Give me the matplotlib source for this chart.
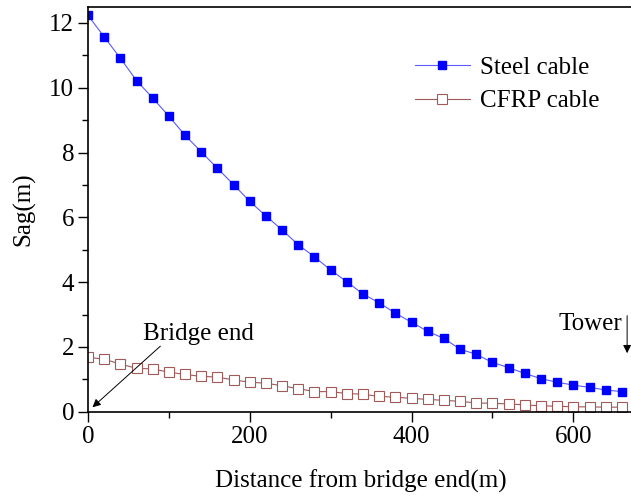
import matplotlib
matplotlib.use('Agg')
import matplotlib.pyplot as plt
from matplotlib.ticker import MultipleLocator

# Distance from bridge end (m), one point every 20 m
distance = list(range(0, 661, 20))

steel_sag = [12.23, 11.57, 10.91, 10.22, 9.68, 9.12, 8.53, 8.02, 7.51, 7.01,
             6.49, 6.04, 5.61, 5.15, 4.78, 4.37, 4.01, 3.63, 3.36, 3.04,
             2.76, 2.48, 2.26, 1.93, 1.77, 1.52, 1.36, 1.18, 1.02, 0.91,
             0.82, 0.75, 0.67, 0.62]

cfrp_sag = [1.68, 1.62, 1.47, 1.34, 1.32, 1.22, 1.15, 1.09, 1.07, 0.98,
            0.91, 0.88, 0.80, 0.71, 0.62, 0.62, 0.56, 0.54, 0.47, 0.45,
            0.41, 0.38, 0.35, 0.32, 0.27, 0.26, 0.24, 0.21, 0.18, 0.17,
            0.15, 0.15, 0.14, 0.14]

plt.rcParams['font.family'] = ['Liberation Serif', 'DejaVu Serif']
plt.rcParams['font.size'] = 18

fig = plt.figure(figsize=(6.31, 4.97), dpi=100)
# right spine falls just outside the picture, as in the reference
ax = fig.add_axes([88 / 631, 85.3 / 497, 546 / 631, 405 / 497])

ax.plot(distance, steel_sag, '-', color='#5a5aff', linewidth=0.8,
        marker='s', markersize=6, markerfacecolor='#0000ff',
        markeredgecolor='#0000ff', label='Steel cable')
ax.plot(distance, cfrp_sag, '-', color='#a05a5a', linewidth=0.8,
        marker='s', markersize=6.5, markerfacecolor='white',
        markeredgecolor='#a05a5a', markeredgewidth=0.8, label='CFRP cable')

ax.set_xlim(0, 675)
ax.set_ylim(0, 12.5)
ax.xaxis.set_major_locator(MultipleLocator(200))
ax.xaxis.set_minor_locator(MultipleLocator(100))
ax.yaxis.set_major_locator(MultipleLocator(2))
ax.yaxis.set_minor_locator(MultipleLocator(1))
ax.tick_params(which='major', direction='out', length=7, width=1.0, pad=3)
ax.tick_params(which='minor', direction='out', length=4, width=1.0)
for s in ax.spines.values():
    s.set_linewidth(1.2)

ax.set_xlabel('Distance from bridge end(m)', labelpad=16)
ax.set_ylabel('Sag(m)', labelpad=10)

# annotations
ax.annotate('', xy=(3, 0.08), xytext=(92, 2.08),
            arrowprops=dict(arrowstyle='-|>', color='black', lw=0.7,
                            mutation_scale=12))
ax.text(68, 2.05, 'Bridge end', ha='left', va='bottom')
ax.annotate('', xy=(666.5, 1.72), xytext=(666.5, 3.05),
            arrowprops=dict(arrowstyle='-|>', color='black', lw=0.7,
                            mutation_scale=12))
ax.text(660, 2.7, 'Tower', ha='right', va='center')

ax.legend(loc='upper left', bbox_to_anchor=(0.598, 0.878), frameon=False,
          handlelength=2.2, handletextpad=0.4, labelspacing=0.45,
          borderaxespad=0, borderpad=0)

plt.savefig('out.png', dpi=100)
plt.close()
